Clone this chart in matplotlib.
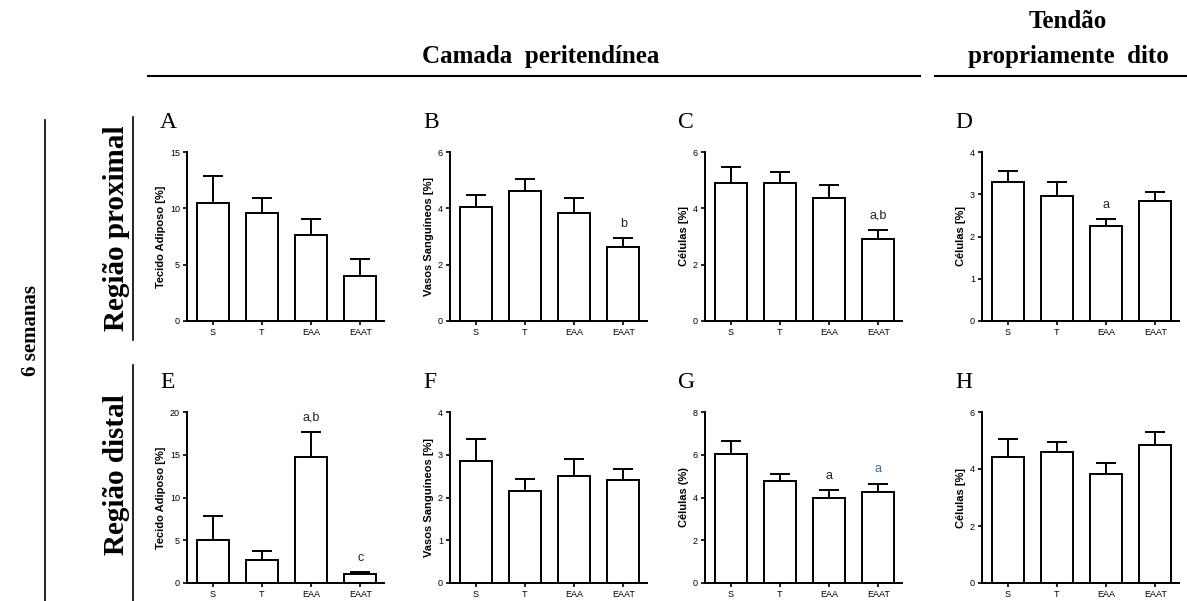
import matplotlib
matplotlib.use('Agg')
import matplotlib.pyplot as plt
from matplotlib.lines import Line2D

plt.rcParams['font.family'] = ['Liberation Sans Narrow', 'Liberation Sans', 'DejaVu Sans']

groups = ['S', 'T', 'EAA', 'EAAT']

# panel data: mean, upper error (SEM)
a_mean = [10.45, 9.63, 7.59, 4.02]
a_err = [2.42, 1.30, 1.45, 1.44]
b_mean = [4.03, 4.61, 3.83, 2.61]
b_err = [0.43, 0.44, 0.53, 0.33]
c_mean = [4.91, 4.91, 4.38, 2.91]
c_err = [0.57, 0.38, 0.45, 0.32]
d_mean = [3.28, 2.96, 2.24, 2.85]
d_err = [0.28, 0.32, 0.17, 0.21]
e_mean = [5.04, 2.70, 14.69, 1.02]
e_err = [2.85, 1.05, 3.01, 0.23]
f_mean = [2.86, 2.16, 2.50, 2.42]
f_err = [0.50, 0.27, 0.40, 0.24]
g_mean = [6.03, 4.77, 4.00, 4.28]
g_err = [0.63, 0.34, 0.33, 0.37]
h_mean = [4.41, 4.59, 3.82, 4.85]
h_err = [0.63, 0.34, 0.38, 0.46]

ylabels = {
    'A': 'Tecido Adiposo [%]', 'B': 'Vasos Sanguíneos [%]', 'C': 'Células [%]', 'D': 'Células [%]',
    'E': 'Tecido Adiposo [%]', 'F': 'Vasos Sanguíneos [%]', 'G': 'Células (%)', 'H': 'Células [%]',
}
yticks = {
    'A': [0, 5, 10, 15], 'B': [0, 2, 4, 6], 'C': [0, 2, 4, 6], 'D': [0, 1, 2, 3, 4],
    'E': [0, 5, 10, 15, 20], 'F': [0, 1, 2, 3, 4], 'G': [0, 2, 4, 6, 8], 'H': [0, 2, 4, 6],
}
signif = {
    'B': {3: 'b'}, 'C': {3: 'a,b'}, 'D': {2: 'a'},
    'E': {2: 'a,b', 3: 'c'}, 'G': {2: 'a', 3: 'a'},
}
panels = {
    'A': (a_mean, a_err), 'B': (b_mean, b_err), 'C': (c_mean, c_err), 'D': (d_mean, d_err),
    'E': (e_mean, e_err), 'F': (f_mean, f_err), 'G': (g_mean, g_err), 'H': (h_mean, h_err),
}

W, H = 1187, 601
fig = plt.figure(figsize=(W / 100, H / 100), dpi=100)

col_x = [187, 450, 705, 982]
row_y = [(152, 321), (412, 583)]
ax_w = 197

order = ['ABCD', 'EFGH']
for r, row in enumerate(order):
    top, bot = row_y[r]
    for c, key in enumerate(row):
        x0 = col_x[c]
        ax = fig.add_axes([x0 / W, 1 - bot / H, ax_w / W, (bot - top) / H])
        mean, err = panels[key]
        xs = range(len(groups))
        ax.bar(xs, mean, width=0.65, color='white', edgecolor='black', linewidth=1.4, zorder=2)
        ax.errorbar(xs, mean, yerr=[[0] * 4, err], fmt='none', ecolor='black',
                    elinewidth=1.4, capsize=7, capthick=1.4, zorder=1)
        ax.set_xlim(-0.52, 3.48)
        ax.set_ylim(0, yticks[key][-1])
        ax.set_yticks(yticks[key])
        ax.set_xticks(list(xs))
        ax.set_xticklabels(groups)
        ax.tick_params(axis='both', labelsize=6.5, length=3, width=1.2, pad=2)
        for s in ['top', 'right']:
            ax.spines[s].set_visible(False)
        for s in ['left', 'bottom']:
            ax.spines[s].set_linewidth(1.4)
        ax.set_ylabel(ylabels[key], fontsize=8, fontweight='bold', labelpad=3)
        for i, lab in signif.get(key, {}).items():
            col = '#2f6db5' if (key == 'G' and i == 3) else '#222222'
            ax.annotate(lab, (i, mean[i] + err[i]), xytext=(0, 6), textcoords='offset points',
                        ha='center', va='bottom', fontsize=9, color=col)
        fig.text((x0 - 27) / W, 1 - (top - 30) / H, key, fontsize=17,
                 family='Liberation Serif', ha='left', va='center')

# column headers
serif = 'Liberation Serif'
fig.text(541 / W, 1 - 57 / H, 'Camada  peritendínea', fontsize=18, fontweight='bold',
         family=serif, ha='center', va='center')
fig.text(1068 / W, 1 - 22 / H, 'Tendão', fontsize=18, fontweight='bold',
         family=serif, ha='center', va='center')
fig.text(1068 / W, 1 - 57 / H, 'propriamente  dito', fontsize=18, fontweight='bold',
         family=serif, ha='center', va='center')
fig.add_artist(Line2D([148 / W, 920 / W], [1 - 76 / H] * 2, color='black', lw=1.5))
fig.add_artist(Line2D([935 / W, 1187 / W], [1 - 76 / H] * 2, color='black', lw=1.5))

# row headers
fig.text(31 / W, 1 - 330 / H, '6 semanas', fontsize=15, fontweight='bold', family=serif,
         rotation=90, ha='center', va='center')
fig.add_artist(Line2D([45 / W] * 2, [1 - 120 / H, 0], color='black', lw=1.2))
fig.text(117 / W, 1 - 228 / H, 'Região proximal', fontsize=21, fontweight='bold', family=serif,
         rotation=90, ha='center', va='center')
fig.text(117 / W, 1 - 475 / H, 'Região distal', fontsize=21, fontweight='bold', family=serif,
         rotation=90, ha='center', va='center')
fig.add_artist(Line2D([133 / W] * 2, [1 - 117 / H, 1 - 340 / H], color='black', lw=1.2))
fig.add_artist(Line2D([133 / W] * 2, [1 - 365 / H, 0], color='black', lw=1.2))

fig.savefig('out.png', dpi=100)
